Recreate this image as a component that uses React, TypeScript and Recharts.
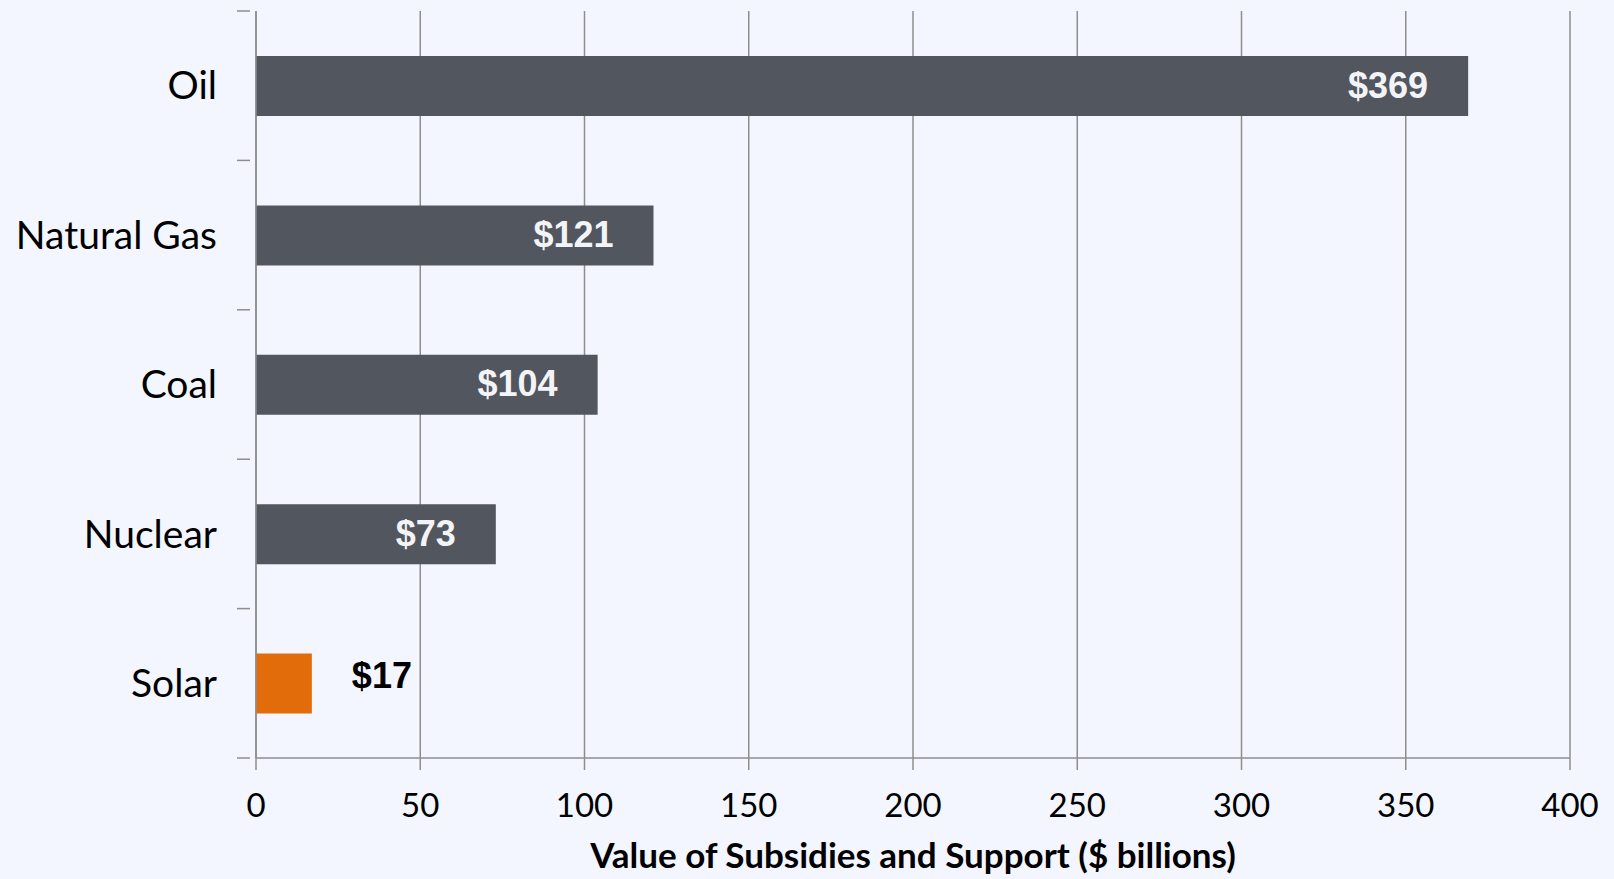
import React from 'react';
import { BarChart, Bar, XAxis, YAxis, CartesianGrid, Cell, LabelList } from 'recharts';

// energy sources and their subsidy values ($ billions)
const sources = ['Oil', 'Natural Gas', 'Coal', 'Nuclear', 'Solar'];
const subsidies = [369, 121, 104, 73, 17];
const barColors = ['#52565E', '#52565E', '#52565E', '#52565E', '#E36C0A'];
const xTicks = [0, 50, 100, 150, 200, 250, 300, 350, 400];

const W = 1614;
const H = 879;
const margin = { top: 11, right: 44, left: 0, bottom: 0 };
const yAxisWidth = 256;
const xAxisHeight = 121;
const band = (H - margin.top - margin.bottom - xAxisHeight) / sources.length;

const gridColor = '#8E8E8E';
const font = 'Lato, "Open Sans", sans-serif';

const data = sources.map((name, i) => ({ name, value: subsidies[i], color: barColors[i] }));

const CategoryTick = (props: any) => {
    const { x, y, payload, index } = props;
    const last = index === sources.length - 1;
    return (
        <g>
            <line x1={x - 13} x2={x} y1={y - band / 2} y2={y - band / 2} stroke={gridColor} strokeWidth={1.5} />
            {last && <line x1={x - 13} x2={x} y1={y + band / 2} y2={y + band / 2} stroke={gridColor} strokeWidth={1.5} />}
            <text x={x - 33} y={y} dy="0.35em" textAnchor="end" fontFamily={font} fontSize={39} fill="#000">
                {payload.value}
            </text>
        </g>
    );
};

const ValueLabel = (props: any) => {
    const { x, y, width, height, value } = props;
    const inside = value > 50;
    return (
        <text
            x={inside ? x + width - 40 : x + width + 40}
            y={y + height / 2 + (inside ? -1 : -8)}
            dy="0.35em"
            textAnchor={inside ? 'end' : 'start'}
            fontFamily='"Liberation Sans", Arial, sans-serif'
            fontWeight="bold"
            fontSize={36}
            fill={inside ? '#F3F4F8' : '#000'}
        >
            ${value}
        </text>
    );
};

export default function App() {
    return (
        <div style={{ position: 'absolute', left: 0, top: 0, width: W, height: H, background: '#F3F6FE' }}>
            <BarChart width={W} height={H} data={data} layout="vertical" margin={margin} barSize={60}>
                <CartesianGrid horizontal={false} vertical={true} stroke={gridColor} strokeWidth={1.5} />
                <XAxis
                    type="number"
                    domain={[0, 400]}
                    ticks={xTicks}
                    height={xAxisHeight}
                    stroke={gridColor}
                    strokeWidth={1.5}
                    tickSize={12}
                    tickMargin={24}
                    tick={{ fill: '#000', fontSize: 33, fontFamily: font }}
                    label={{
                        value: 'Value of Subsidies and Support ($ billions)',
                        position: 'insideBottom',
                        offset: 11,
                        fill: '#000',
                        fontSize: 35,
                        fontWeight: 'bold',
                        fontFamily: font,
                    }}
                />
                <YAxis
                    type="category"
                    dataKey="name"
                    width={yAxisWidth}
                    stroke={gridColor}
                    strokeWidth={1.5}
                    tickLine={false}
                    tickMargin={0}
                    tick={<CategoryTick />}
                />
                <Bar dataKey="value" isAnimationActive={false}>
                    {data.map((d, i) => (
                        <Cell key={i} fill={d.color} />
                    ))}
                    <LabelList dataKey="value" content={<ValueLabel />} />
                </Bar>
            </BarChart>
        </div>
    );
}
